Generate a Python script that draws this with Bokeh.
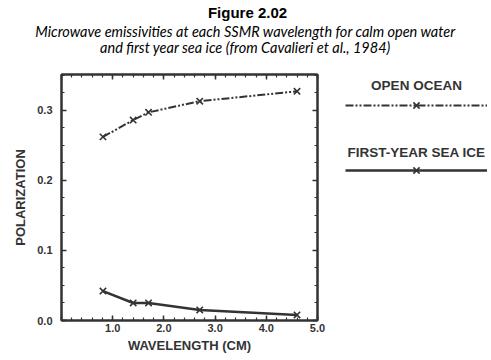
from bokeh.plotting import figure
from bokeh.layouts import column, row
from bokeh.models import (Range1d, LinearAxis, Label, Legend, LegendItem,
                          SingleIntervalTicker, PrintfTickFormatter, CustomJSTickFormatter)
from bokeh.embed import file_html
from bokeh.resources import INLINE

wavelength = [0.81, 1.4, 1.7, 2.7, 4.6]
open_ocean = [0.262, 0.286, 0.297, 0.313, 0.327]
sea_ice = [0.042, 0.025, 0.025, 0.015, 0.008]

title = "Figure 2.02"
subtitle1 = "Microwave emissivities at each SSMR wavelength for calm open water"
subtitle2 = "and first year sea ice (from Cavalieri et al., 1984)"
series_names = ["OPEN OCEAN", "FIRST-YEAR SEA ICE"]

INK = "#333333"
FONT = "Liberation Sans"
OO_DASH = "8 2 2 2 2 2"


def bare(fig):
    fig.grid.visible = False
    fig.outline_line_color = None
    fig.background_fill_color = "white"
    fig.border_fill_color = "white"
    return fig


def draw_series(fig, ys, dash, width, visible=True):
    ln = fig.line(wavelength, ys, line_width=width, line_color=INK, line_dash=dash, visible=visible)
    mk = fig.scatter(wavelength, ys, marker="x", size=9, line_width=1.6, line_color=INK, visible=visible)
    return [ln, mk]


# ---- title strip ----
pt = bare(figure(width=491, height=58, x_range=Range1d(0, 1), y_range=Range1d(0, 1),
                 output_backend="svg", toolbar_location=None,
                 x_axis_location=None, y_axis_location=None,
                 min_border_left=0, min_border_right=0, min_border_top=0, min_border_bottom=0))
pt.add_layout(Label(x=247, y=46, x_units="screen", y_units="screen", text=title,
                    text_align="center", text_baseline="middle", text_font=FONT,
                    text_font_style="bold", text_font_size="15px", text_color="black"))
for txt, ly in [(subtitle1, 27), (subtitle2, 11)]:
    pt.add_layout(Label(x=245, y=ly, x_units="screen", y_units="screen", text=txt,
                        text_align="center", text_baseline="middle", text_font="Lato",
                        text_font_style="italic", text_font_size="14.5px", text_color="black"))

# ---- main plot ----
p = figure(width=330, height=302, x_range=Range1d(0, 5), y_range=Range1d(0, 0.351),
           output_backend="svg", toolbar_location=None,
           min_border_left=61, min_border_right=13, min_border_top=16, min_border_bottom=40)
bare(p)
p.outline_line_color = INK
p.outline_line_width = 2


def style_axis(ax, show_labels=True, standoff=3):
    ax.major_tick_in = 5
    ax.major_tick_out = 0
    ax.minor_tick_in = 3
    ax.minor_tick_out = 0
    ax.major_tick_line_color = INK
    ax.minor_tick_line_color = INK
    ax.major_tick_line_width = 1.5
    ax.minor_tick_line_width = 1.2
    ax.axis_line_color = INK
    ax.axis_line_width = 2
    ax.major_label_text_font = FONT
    ax.major_label_text_font_style = "bold"
    ax.major_label_text_font_size = "11px" if show_labels else "1px"
    ax.major_label_text_color = INK if show_labels else None
    ax.major_label_standoff = standoff if show_labels else 0
    ax.axis_label_text_font = FONT
    ax.axis_label_text_font_style = "bold"
    ax.axis_label_text_font_size = "13px"
    ax.axis_label_text_color = INK
    ax.axis_label_standoff = 6


p.xaxis.ticker = SingleIntervalTicker(interval=1, num_minor_ticks=5)
p.xaxis.formatter = PrintfTickFormatter(format="%.1f")
p.xaxis.major_label_overrides = {0: ""}
p.xaxis.axis_label = "WAVELENGTH (CM)"
p.yaxis.ticker = SingleIntervalTicker(interval=0.1, num_minor_ticks=4)
p.yaxis.formatter = PrintfTickFormatter(format="%.1f")
p.yaxis.axis_label = "POLARIZATION"
style_axis(p.xaxis[0], standoff=3)
style_axis(p.yaxis[0], standoff=9)
p.xaxis.axis_label_standoff = 3

blank = CustomJSTickFormatter(code="return ''")
top = LinearAxis(ticker=SingleIntervalTicker(interval=1, num_minor_ticks=5), formatter=blank)
right = LinearAxis(ticker=SingleIntervalTicker(interval=0.1, num_minor_ticks=4), formatter=blank)
style_axis(top, False)
style_axis(right, False)
p.add_layout(top, "above")
p.add_layout(right, "right")

draw_series(p, open_ocean, OO_DASH, 2)
draw_series(p, sea_ice, "solid", 2.5)

# ---- legend panel (frame aligned with the main frame: 246 px tall) ----
pl = bare(figure(width=161, height=302, x_range=Range1d(0, 5), y_range=Range1d(0, 0.351),
                 output_backend="svg", toolbar_location=None,
                 x_axis_location=None, y_axis_location=None,
                 min_border_left=0, min_border_right=0, min_border_top=16, min_border_bottom=40))
key_oo = draw_series(pl, open_ocean, OO_DASH, 2, visible=False)
key_si = draw_series(pl, sea_ice, "solid", 2.5, visible=False)

for rends, ly in [(key_oo, 204), (key_si, 139)]:
    leg = Legend(items=[LegendItem(label=" ", renderers=rends)], location=(15, ly),
                 glyph_width=142, glyph_height=22, label_width=1, label_standoff=0,
                 label_height=1, label_text_font_size="8px", padding=0, spacing=0, margin=0,
                 border_line_color=None, background_fill_alpha=0,
                 inactive_fill_alpha=0, click_policy="none")
    pl.add_layout(leg, "center")

for txt, ly in [(series_names[0], 235), (series_names[1], 168)]:
    pl.add_layout(Label(x=86, y=ly, x_units="screen", y_units="screen", text=txt,
                        text_align="center", text_baseline="middle", text_font=FONT,
                        text_font_style="bold", text_font_size="13.5px", text_color=INK))

layout = column(pt, row(p, pl, spacing=0), spacing=0)
open("out.html", "w").write(file_html(layout, INLINE))
